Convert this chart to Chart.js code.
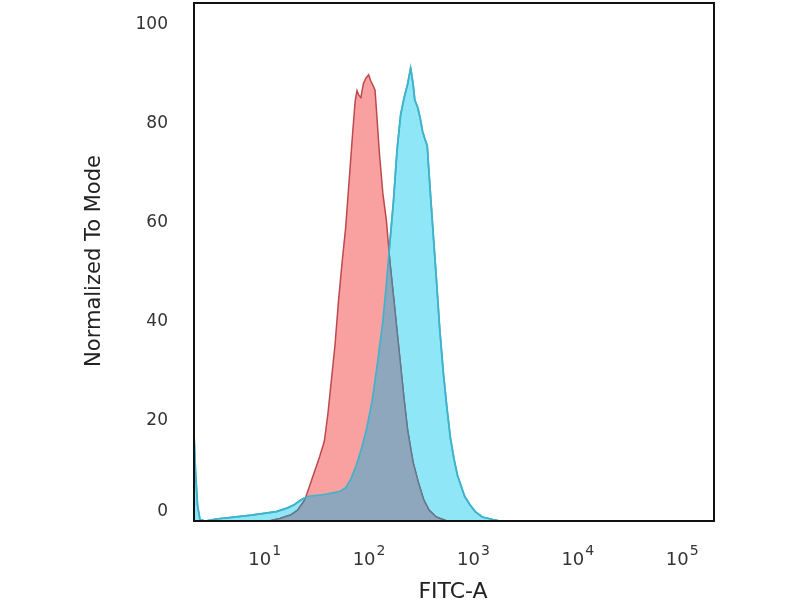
<!DOCTYPE html>
<html>
<head>
<meta charset="utf-8">
<script src="https://cdn.jsdelivr.net/npm/chart.js@4/dist/chart.umd.min.js"></script>
<style>
  html, body { margin: 0; padding: 0; background: #ffffff; }
  #c { display: block; width: 800px; height: 600px; }
</style>
</head>
<body>
<canvas id="c" width="800" height="600"></canvas>
<script>
// ---- Data (FITC-A intensity, Normalized To Mode) ----
const isotypeX = [11.8, 14.9, 18.9, 22.1, 25.9, 30.3, 35.4, 39.8, 43.1, 46.6, 50.4, 54.5, 58.9, 63.7, 68.9, 74.5, 78.7, 81.8, 85.1, 89.1, 94.2, 99.5, 105.9, 110.2, 116.4, 121.9, 125.9, 134.0, 144.9, 156.7, 169.4, 183.2, 198.2, 214.3, 231.7, 250.6, 281.8, 317.0, 356.5, 400.9, 469.9, 594.3];
const isotypeY = [0, 0.5, 1.2, 2.2, 4.3, 8.5, 12.6, 16.1, 21.7, 28.6, 35.6, 44.6, 52.2, 59.2, 68.9, 78.6, 84.9, 86.9, 86.0, 85.5, 88.3, 89.4, 90.1, 89.0, 88.0, 87.0, 82.8, 74.4, 66.1, 60.6, 52.2, 45.3, 38.3, 31.4, 24.4, 18.2, 11.9, 7.8, 4.3, 2.2, 0.8, 0];

const sampleX = [2.24, 2.32, 2.43, 2.56, 2.88, 3.65, 5.40, 7.98, 10.1, 13.8, 17.5, 20.5, 23.9, 28.0, 38.3, 48.4, 56.6, 63.7, 71.6, 80.5, 90.6, 101.9, 114.6, 128.8, 144.9, 156.7, 169.4, 183.2, 198.2, 214.3, 231.7, 250.6, 267.3, 281.8, 293.1, 312.6, 329.6, 348.3, 365.6, 385.5, 400.9, 433.5, 469.9, 507.0, 549.5, 594.3, 642.7, 695.0, 751.6, 812.8, 879.0, 988.6, 1111.7, 1300.2, 1644.4, 1923, 2239];
const sampleY = [18, 10, 3, 0.3, 0, 0.4, 0.8, 1.2, 1.5, 1.9, 2.6, 3.3, 4.3, 5.0, 5.3, 5.7, 6.0, 6.7, 8.5, 11.2, 14.7, 18.9, 24.4, 32, 40.4, 48, 56.4, 64.7, 75, 82, 85.5, 88.3, 91.5, 88.3, 85, 83.5, 81.4, 78.6, 77.2, 75.8, 70.3, 59.9, 49.4, 39, 30, 23, 16.8, 12.6, 9.2, 7.1, 5, 3.3, 1.9, 0.8, 0.3, 0, 0];

const xTickExponents = [1, 2, 3, 4, 5];
const yTickValues = [0, 20, 40, 60, 80, 100];
const xTitle = 'FITC-A';
const yTitle = 'Normalized To Mode';

// ---- Styles ----
const RED_FILL = '#f9a1a1';
const RED_LINE = '#bd484d';
const BLUE_FILL = '#8ee6f7';
const BLUE_LINE = '#3fb3cb';
const OVERLAP_FILL = '#8fa7bc';
const OVERLAP_LINE = '#5e7b8f';
const FONT = "'DejaVu Sans', Verdana, sans-serif";

function areaPath(ctx, pts, base) {
  ctx.beginPath();
  ctx.moveTo(pts[0].x, base);
  pts.forEach(p => ctx.lineTo(p.x, p.y));
  ctx.lineTo(pts[pts.length - 1].x, base);
  ctx.closePath();
}
function linePath(ctx, pts) {
  ctx.beginPath();
  pts.forEach((p, i) => i ? ctx.lineTo(p.x, p.y) : ctx.moveTo(p.x, p.y));
}

const overlapPlugin = {
  id: 'overlap',
  afterDatasetsDraw(chart) {
    const ctx = chart.ctx, a = chart.chartArea;
    const red = chart.getDatasetMeta(0).data;
    const blue = chart.getDatasetMeta(1).data;
    const base = chart.scales.y.getPixelForValue(0);
    ctx.save();
    ctx.beginPath();
    ctx.rect(a.left, a.top, a.right - a.left, a.bottom - a.top);
    ctx.clip();
    ctx.save();
    areaPath(ctx, blue, base);
    ctx.clip();
    areaPath(ctx, red, base);
    ctx.fillStyle = OVERLAP_FILL;
    ctx.fill();
    linePath(ctx, red);
    ctx.strokeStyle = OVERLAP_LINE;
    ctx.lineWidth = 1.5;
    ctx.lineJoin = 'round';
    ctx.stroke();
    ctx.restore();
    linePath(ctx, blue);
    ctx.strokeStyle = BLUE_LINE;
    ctx.lineWidth = 1.7;
    ctx.lineJoin = 'round';
    ctx.stroke();
    ctx.restore();
  }
};

const framePlugin = {
  id: 'frame',
  afterDraw(chart) {
    const ctx = chart.ctx, a = chart.chartArea;
    const xs = chart.scales.x, ys = chart.scales.y;
    ctx.save();
    ctx.strokeStyle = '#111111';
    ctx.lineWidth = 2;
    ctx.strokeRect(a.left, a.top, a.right - a.left, a.bottom - a.top);

    // y tick labels
    ctx.fillStyle = '#333333';
    ctx.font = '17px ' + FONT;
    ctx.textAlign = 'right';
    ctx.textBaseline = 'middle';
    yTickValues.forEach(v => {
      const py = Math.min(ys.getPixelForValue(v) - 1, a.bottom - 9);
      ctx.fillText(String(v), 168, py);
    });

    // x tick labels 10^k
    xTickExponents.forEach(k => {
      const px = xs.getPixelForValue(Math.pow(10, k)) + 3;
      ctx.font = '18px ' + FONT;
      const wBase = ctx.measureText('10').width;
      ctx.font = '14px ' + FONT;
      const wExp = ctx.measureText(String(k)).width;
      const total = wBase + 1 + wExp;
      const start = px - total / 2;
      ctx.textAlign = 'left';
      ctx.textBaseline = 'alphabetic';
      ctx.font = '18px ' + FONT;
      ctx.fillText('10', start, 565);
      ctx.font = '14px ' + FONT;
      ctx.fillText(String(k), start + wBase + 1, 555);
    });

    // axis titles
    ctx.fillStyle = '#222222';
    ctx.font = '22px ' + FONT;
    ctx.textAlign = 'center';
    ctx.textBaseline = 'alphabetic';
    ctx.fillText(xTitle, 453, 598);

    ctx.save();
    ctx.translate(100, 261);
    ctx.rotate(-Math.PI / 2);
    ctx.font = '21px ' + FONT;
    ctx.textAlign = 'center';
    ctx.textBaseline = 'alphabetic';
    ctx.fillText(yTitle, 0, 0);
    ctx.restore();
    ctx.restore();
  }
};

new Chart(document.getElementById('c'), {
  type: 'line',
  data: {
    datasets: [
      {
        label: 'Isotype control',
        data: isotypeX.map((x, i) => ({ x: x, y: isotypeY[i] })),
        borderColor: RED_LINE,
        backgroundColor: RED_FILL,
        borderWidth: 1.5,
        fill: 'origin',
        pointRadius: 0,
        tension: 0
      },
      {
        label: 'Sample',
        data: sampleX.map((x, i) => ({ x: x, y: sampleY[i] })),
        borderColor: BLUE_LINE,
        backgroundColor: BLUE_FILL,
        borderWidth: 1.7,
        fill: 'origin',
        pointRadius: 0,
        tension: 0
      }
    ]
  },
  options: {
    responsive: false,
    animation: false,
    devicePixelRatio: 1,
    layout: { padding: { left: 194, right: 86, top: 3, bottom: 79 } },
    plugins: { legend: { display: false }, tooltip: { enabled: false } },
    scales: {
      x: { type: 'logarithmic', min: 2.244, max: 215800, display: false },
      y: { type: 'linear', min: 0, max: 104.6, display: false }
    }
  },
  plugins: [overlapPlugin, framePlugin]
});
</script>
</body>
</html>
